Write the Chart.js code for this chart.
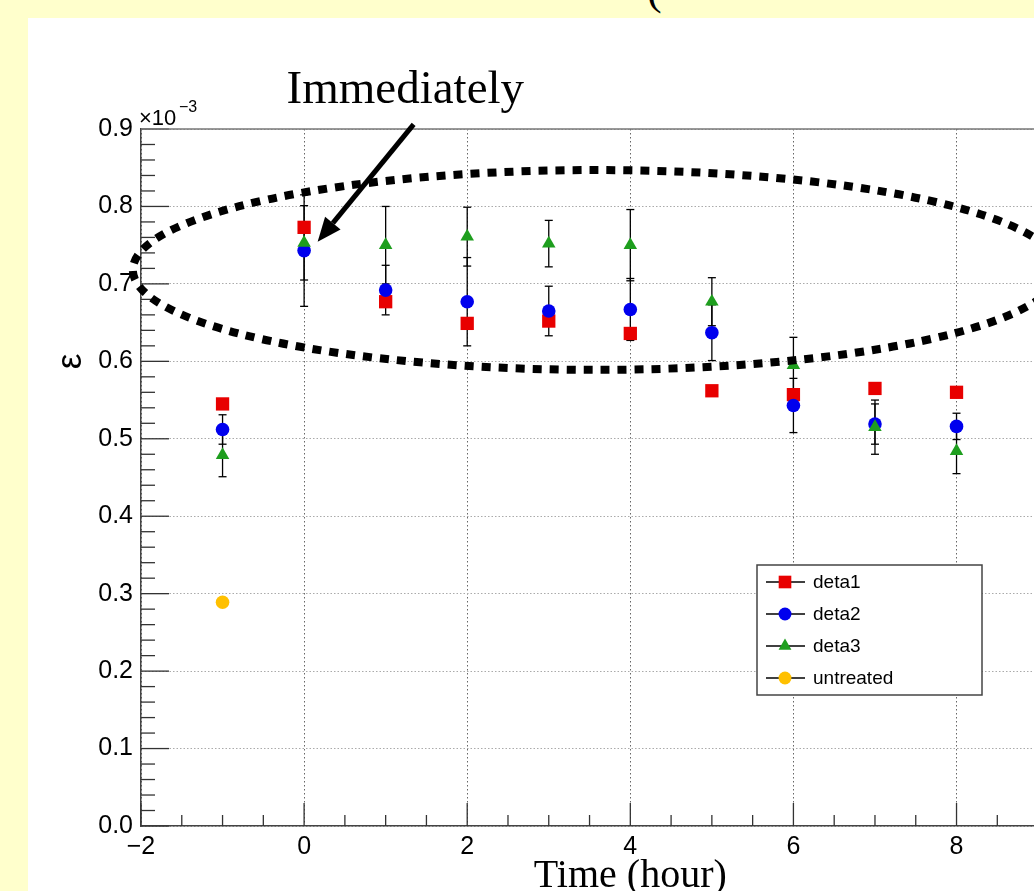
<!DOCTYPE html>
<html lang="en">
<head>
<meta charset="UTF-8">
<title>Epsilon vs time</title>
<script src="https://cdn.jsdelivr.net/npm/chart.js"></script>
<style>
  html, body { margin: 0; padding: 0; }
  body { width: 1034px; height: 891px; background: #ffffcc; overflow: hidden; position: relative; }
  .cut { position: absolute; left: 647px; top: -36px; font: 44px 'Liberation Serif', serif; color: #000; }
  .panel { position: absolute; left: 28px; top: 18px; width: 1006px; height: 873px; background: #fff; }
  canvas { display: block; }
</style>
</head>
<body>
<div class="cut">(</div>
<div class="panel"><canvas id="plot" width="1006" height="873"></canvas></div>

<script>
// values are in units of 1e-3
const hours = [-1, 0, 1, 2, 3, 4, 5, 6, 7, 8];
const deta1 = [0.545, 0.773, 0.677, 0.649, 0.652, 0.636, 0.562, 0.557, 0.565, 0.560];
const deta2 = [0.512, 0.743, 0.692, 0.677, 0.665, 0.667, 0.637, 0.543, 0.519, 0.516];
const deta2Err = [0.019, 0.072, 0.032, 0.057, 0.032, 0.040, 0.036, 0.035, 0.026, 0.017];
const deta3 = [0.479, 0.753, 0.750, 0.761, 0.752, 0.750, 0.677, 0.595, 0.515, 0.484];
const deta3Err = [0.028, 0.048, 0.050, 0.038, 0.030, 0.046, 0.031, 0.036, 0.035, 0.029];
const untreatedHours = [-1];
const untreated = [0.289];

const xMin = -2, xMax = 8.95, yMin = 0, yMax = 0.9;

// hand-drawn annotations, in data coordinates
const ellipseCenter = [3.58, 0.718];
const ellipseRadii = [5.68, 0.129];
const arrowFrom = [1.343, 0.906];
const arrowTo = [0.166, 0.7545];
const noteAt = [-0.215, 0.934];

const SANS = "'Liberation Sans', Arial, Helvetica, sans-serif";
const SERIF = "'Liberation Serif', 'Times New Roman', serif";

const toPoints = (xs, ys) => xs.map((x, i) => ({ x, y: ys[i] }));

const datasets = [
    { label: 'deta1', data: toPoints(hours, deta1), errors: null, pointStyle: 'rect', pointRadius: 9.4, backgroundColor: '#e80000', order: 4 },
    { label: 'deta2', data: toPoints(hours, deta2), errors: deta2Err, pointStyle: 'circle', pointRadius: 6.8, backgroundColor: '#0000ee', order: 3 },
    { label: 'deta3', data: toPoints(hours, deta3), errors: deta3Err, pointStyle: 'triangle', pointRadius: 7.8, backgroundColor: '#1e9e1e', order: 2 },
    { label: 'untreated', data: toPoints(untreatedHours, untreated), errors: null, pointStyle: 'circle', pointRadius: 6.8, backgroundColor: '#ffc000', order: 1 },
];
datasets.forEach(d => { d.borderWidth = 0; d.pointBorderWidth = 0; d.showLine = false; });

const line = (ctx, x1, y1, x2, y2) => { ctx.beginPath(); ctx.moveTo(x1, y1); ctx.lineTo(x2, y2); ctx.stroke(); };

const decorations = {
    id: 'decorations',
    beforeDatasetsDraw(chart) {
        const { ctx, chartArea: { left, right, top, bottom }, scales: { x, y } } = chart;
        ctx.save();
        // inner ticks, ROOT style
        ctx.strokeStyle = '#333';
        ctx.lineWidth = 1.3;
        for (let i = 0; i <= 45; i++) {
            const py = y.getPixelForValue(i * 0.02);
            line(ctx, left, py, left + (i % 5 === 0 ? 28 : 14), py);
        }
        for (let i = 0; xMin + i * 0.5 <= xMax; i++) {
            const px = x.getPixelForValue(xMin + i * 0.5);
            line(ctx, px, bottom, px, bottom - (i % 4 === 0 ? 23 : 11));
        }
        // top of frame
        ctx.strokeStyle = '#777';
        ctx.lineWidth = 1.5;
        line(ctx, left, top, right, top);

        // error bars
        ctx.strokeStyle = '#000';
        ctx.lineWidth = 1.3;
        chart.data.datasets.forEach(ds => {
            if (!ds.errors) return;
            ds.data.forEach((p, i) => {
                const px = x.getPixelForValue(p.x);
                const hi = y.getPixelForValue(p.y + ds.errors[i]);
                const lo = y.getPixelForValue(p.y - ds.errors[i]);
                line(ctx, px, hi, px, lo);
                line(ctx, px - 4, hi, px + 4, hi);
                line(ctx, px - 4, lo, px + 4, lo);
            });
        });
        ctx.restore();
    },
    afterDatasetsDraw(chart) {
        const { ctx, chartArea: { left, top, bottom }, scales: { x, y } } = chart;
        ctx.save();

        // dashed ellipse
        const cx = x.getPixelForValue(ellipseCenter[0]);
        const cy = y.getPixelForValue(ellipseCenter[1]);
        const rx = x.getPixelForValue(ellipseCenter[0] + ellipseRadii[0]) - cx;
        const ry = cy - y.getPixelForValue(ellipseCenter[1] + ellipseRadii[1]);
        ctx.strokeStyle = '#000';
        ctx.lineWidth = 8;
        ctx.setLineDash([9, 8]);
        ctx.beginPath();
        ctx.ellipse(cx, cy, rx, ry, 0, 0, Math.PI * 2);
        ctx.stroke();
        ctx.setLineDash([]);

        // arrow
        const ax = x.getPixelForValue(arrowFrom[0]), ay = y.getPixelForValue(arrowFrom[1]);
        const bx = x.getPixelForValue(arrowTo[0]), by = y.getPixelForValue(arrowTo[1]);
        const ang = Math.atan2(by - ay, bx - ax);
        const head = 24, half = 10;
        const hx = bx - head * Math.cos(ang), hy = by - head * Math.sin(ang);
        ctx.lineWidth = 5;
        line(ctx, ax, ay, hx, hy);
        ctx.fillStyle = '#000';
        ctx.beginPath();
        ctx.moveTo(bx, by);
        ctx.lineTo(hx + half * Math.sin(ang), hy - half * Math.cos(ang));
        ctx.lineTo(hx - half * Math.sin(ang), hy + half * Math.cos(ang));
        ctx.closePath();
        ctx.fill();

        // note
        ctx.font = `47px ${SERIF}`;
        ctx.textAlign = 'left';
        ctx.textBaseline = 'alphabetic';
        ctx.fillText('Immediately', x.getPixelForValue(noteAt[0]), y.getPixelForValue(noteAt[1]));

        // axis titles
        ctx.font = `40px ${SERIF}`;
        ctx.textAlign = 'center';
        ctx.fillText('Time (hour)', x.getPixelForValue(4), bottom + 61);
        ctx.save();
        ctx.translate(43, y.getPixelForValue(0.60));
        ctx.rotate(-Math.PI / 2);
        ctx.font = `35px ${SANS}`;
        ctx.textBaseline = 'middle';
        ctx.fillText('\u03b5', 0, 0);
        ctx.restore();

        // exponent
        ctx.textAlign = 'left';
        ctx.font = `22px ${SANS}`;
        ctx.fillText('\u00d710', left - 2, top - 4);
        ctx.font = `16px ${SANS}`;
        ctx.fillText('\u22123', left + 38, top - 17);

        // legend box
        const bx0 = 729, by0 = 547, bw = 225, bh = 130;
        ctx.fillStyle = '#fff';
        ctx.fillRect(bx0, by0, bw, bh);
        ctx.strokeStyle = '#444';
        ctx.lineWidth = 1.5;
        ctx.strokeRect(bx0, by0, bw, bh);
        chart.data.datasets.forEach((ds, i) => {
            const ry = by0 + 17 + i * 32;
            ctx.strokeStyle = '#000';
            ctx.lineWidth = 1.3;
            line(ctx, bx0 + 9, ry, bx0 + 48, ry);
            ctx.fillStyle = ds.backgroundColor;
            Chart.helpers.drawPoint(ctx, { pointStyle: ds.pointStyle, radius: ds.pointRadius * 0.95, rotation: 0, borderWidth: 0 }, bx0 + 28, ry);
            ctx.fillStyle = '#000';
            ctx.font = `19px ${SANS}`;
            ctx.textBaseline = 'middle';
            ctx.fillText(ds.label, bx0 + 56, ry + 1);
        });
        ctx.restore();
    }
};

const tickFont = { family: SANS, size: 25 };

new Chart(document.getElementById('plot'), {
    type: 'scatter',
    data: { datasets },
    options: {
        responsive: false,
        animation: false,
        events: [],
        layout: { autoPadding: false, padding: { top: 111, right: 0, bottom: 0, left: 0 } },
        plugins: { legend: { display: false }, tooltip: { enabled: false } },
        scales: {
            x: {
                type: 'linear', min: xMin, max: xMax,
                afterFit: s => { s.height = 65; s.paddingRight = 0; s.paddingLeft = 0; },
                ticks: {
                    stepSize: 2, includeBounds: false, padding: 6, color: '#000', font: tickFont,
                    maxRotation: 0, autoSkip: false,
                    callback: v => (v < 0 ? '\u2212' + Math.abs(v) : String(v))
                },
                grid: { color: '#666', lineWidth: 1, drawTicks: false },
                border: { color: '#444', width: 1.5, dash: [1.5, 2.5] }
            },
            y: {
                type: 'linear', min: yMin, max: yMax,
                afterFit: s => { s.width = 113; s.paddingTop = 0; s.paddingBottom = 0; },
                ticks: { stepSize: 0.1, padding: 8, color: '#000', font: tickFont, callback: v => v.toFixed(1) },
                grid: { color: '#aaa', lineWidth: 1, drawTicks: false },
                border: { color: '#444', width: 1.5, dash: [1.5, 2] }
            }
        }
    },
    plugins: [decorations]
});
</script>
</body>
</html>
